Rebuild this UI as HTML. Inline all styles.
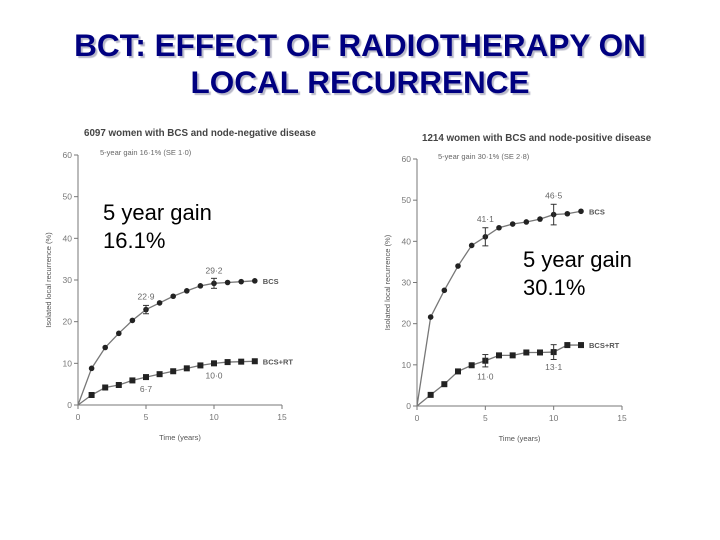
<!DOCTYPE html>
<html><head><meta charset="utf-8"><style>
body{margin:0;width:720px;height:540px;background:#fff;overflow:hidden;font-family:"Liberation Sans",sans-serif;}
#title{position:absolute;left:0;top:27px;width:720px;text-align:center;font-weight:bold;font-size:31.5px;line-height:37px;color:#000080;text-shadow:2px 2px 1px #b8b8c8;}
svg{position:absolute;left:0;top:0}
.big{position:absolute;font-size:22px;line-height:28px;color:#000;}
</style></head><body>
<div id="title">BCT: EFFECT OF RADIOTHERAPY ON<br>LOCAL RECURRENCE</div>
<svg id="chart" width="720" height="540"></svg>
<div class="big" style="left:103px;top:199px">5 year gain<br>16.1%</div>
<div class="big" style="left:523px;top:246px">5 year gain<br>30.1%</div>
<script>
const leftYears=[0,1,2,3,4,5,6,7,8,9,10,11,12,13];
const leftBCS=[0,8.8,13.8,17.2,20.3,22.9,24.5,26.1,27.4,28.6,29.2,29.4,29.6,29.8];
const leftRT=[0,2.4,4.2,4.8,5.9,6.7,7.4,8.1,8.8,9.5,10.0,10.3,10.4,10.5];
const rightYears=[0,1,2,3,4,5,6,7,8,9,10,11,12];
const rightBCS=[0,21.6,28.1,34,39,41.1,43.3,44.2,44.7,45.4,46.5,46.7,47.3];
const rightRT=[0,2.7,5.3,8.4,9.9,11.0,12.3,12.3,13,13,13.1,14.8,14.8];
const yTicks=[0,10,20,30,40,50,60];
const xTicks=[0,5,15,10];
const NS='http://www.w3.org/2000/svg';
const svg=document.getElementById('chart');
function el(t,a,p){const e=document.createElementNS(NS,t);for(const k in a)e.setAttribute(k,a[k]);(p||svg).appendChild(e);return e;}
function txt(x,y,s,sz,anchor,fill,name,extra){const t=el('text',Object.assign({x:x,y:y,'font-size':sz,'text-anchor':anchor||'start',fill:fill||'#555','font-family':'Liberation Sans, sans-serif'},extra||{}));t.textContent=s;

return t;}
function panel(o){
  const sx=v=>o.x0+v*(o.x15-o.x0)/15, sy=v=>o.y0-v*(o.y0-o.y60)/60;
  const g=el('g',{});
  
  
  el('line',{x1:sx(0),y1:sy(60),x2:sx(0),y2:sy(0),stroke:'#777','stroke-width':1},g);
  el('line',{x1:sx(0),y1:sy(0),x2:sx(15),y2:sy(0),stroke:'#777','stroke-width':1},g);
  yTicks.forEach(v=>{el('line',{x1:sx(0)-4,y1:sy(v),x2:sx(0),y2:sy(v),stroke:'#777'},g);txt(sx(0)-6,sy(v)+3,String(v),8.5,'end','#777','y-tick-label');});
  xTicks.forEach(v=>{el('line',{x1:sx(v),y1:sy(0),x2:sx(v),y2:sy(0)+4,stroke:'#777'},g);txt(sx(v),sy(0)+15,String(v),8.5,'middle','#777','x-tick-label');});
  txt((sx(0)+sx(15))/2,sy(0)+35,'Time (years)',7.5,'middle','#555','x-axis-title');
  txt(0,0,o.ylabel,7.5,'middle','#555','y-axis-title',{transform:`translate(${sx(0)-27},${(sy(0)+sy(60))/2}) rotate(-90)`});
  txt(o.titleX,o.titleY,o.title,9.8,'start','#444','panel-title',{'font-weight':'bold'});
  txt(o.titleX+16,sy(60)+0,o.sub,7.5,'start','#666','panel-subtitle');
  [[o.bcs,'circle','bcs-series'],[o.rt,'square','rt-series']].forEach(([d,shape,name])=>{
    const pts=o.years.map((yr,i)=>sx(yr)+','+sy(d[i])).join(' ');
    const pl=el('polyline',{points:pts,fill:'none',stroke:'#777','stroke-width':1.3},g);
    
    o.years.forEach((yr,i)=>{if(i===0)return;let m;
      if(shape==='circle')m=el('circle',{cx:sx(yr),cy:sy(d[i]),r:2.8,fill:'#222'},g);
      else m=el('rect',{x:sx(yr)-3,y:sy(d[i])-3,width:6,height:6,fill:'#222'},g);
      
      });
  });
  o.errs.forEach(([arr,i,e])=>{const x=sx(o.years[i]),v=arr[i];
    el('line',{x1:x,y1:sy(v+e),x2:x,y2:sy(v-e),stroke:'#333'},g);
    el('line',{x1:x-3,y1:sy(v+e),x2:x+3,y2:sy(v+e),stroke:'#333'},g);
    el('line',{x1:x-3,y1:sy(v-e),x2:x+3,y2:sy(v-e),stroke:'#333'},g);});
  o.labels.forEach(([arr,i,dy])=>txt(sx(o.years[i]),sy(arr[i])+dy,arr[i].toFixed(1).replace('.','·'),8.5,'middle','#666','value-label'));
  const last=o.years.length-1;
  txt(sx(o.years[last])+8,sy(o.bcs[last])+3,'BCS',7.5,'start','#555','bcs-legend-label',{'font-weight':'bold'});
  txt(sx(o.years[last])+8,sy(o.rt[last])+3,o.rtLabel,7.5,'start','#555','rt-legend-label',{'font-weight':'bold'});
}
panel({name:'left-panel',x0:78,x15:282,y0:405,y60:155,years:leftYears,bcs:leftBCS,rt:leftRT,
 ylabel:'Isolated local recurrence (%)',title:'6097 women with BCS and node-negative disease',titleX:84,titleY:136,sub:'5-year gain 16·1% (SE 1·0)',
 errs:[[leftBCS,5,1],[leftBCS,10,1.2]],labels:[[leftBCS,5,-10],[leftBCS,10,-10],[leftRT,5,15],[leftRT,10,15]],rtLabel:'BCS+RT'});
panel({name:'right-panel',x0:417,x15:622,y0:406,y60:159,years:rightYears,bcs:rightBCS,rt:rightRT,
 ylabel:'Isolated local recurrence (%)',title:'1214 women with BCS and node-positive disease',titleX:422,titleY:141,sub:'5-year gain 30·1% (SE 2·8)',
 errs:[[rightBCS,5,2.2],[rightBCS,10,2.5],[rightRT,5,1.5],[rightRT,10,1.8]],labels:[[rightBCS,5,-15],[rightBCS,10,-16],[rightRT,5,19],[rightRT,10,18]],rtLabel:'BCS+RT'});
</script>
</body></html>
